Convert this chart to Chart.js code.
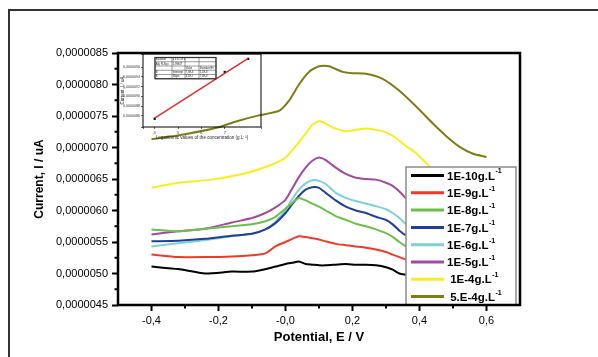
<!DOCTYPE html>
<html lang="en">
<head>
<meta charset="UTF-8">
<title>DPV response vs concentration</title>
<script src="https://cdn.jsdelivr.net/npm/chart.js"></script>
<style>
  html, body { margin: 0; padding: 0; background: #fff; }
  #wrap { position: relative; width: 598px; height: 357px; overflow: hidden; }
  #mainChart { position: absolute; left: 0; top: 0; }
  #insetChart { position: absolute; left: 117px; top: 50px; }
</style>
</head>
<body>
<div id="wrap">
  <canvas id="mainChart" width="598" height="357"></canvas>
  <canvas id="insetChart" width="148" height="92"></canvas>
</div>
<script>
// current values are in units of 1e-6 (axis labels show the real value)
const potentialLow = [-0.40, -0.32, -0.24, -0.16, -0.10, -0.06, -0.03, 0.00, 0.02, 0.04, 0.06, 0.08,
                      0.10, 0.12, 0.15, 0.18, 0.21, 0.24, 0.27, 0.30, 0.32, 0.34, 0.36];
const current1E10 = [5.11, 5.07, 5.00, 5.03, 5.03, 5.07, 5.11, 5.15, 5.17, 5.19, 5.15, 5.14,
                     5.13, 5.13, 5.14, 5.15, 5.14, 5.14, 5.13, 5.10, 5.06, 5.00, 4.98];
const current1E9  = [5.30, 5.26, 5.26, 5.27, 5.29, 5.32, 5.43, 5.50, 5.55, 5.59, 5.58, 5.56,
                     5.54, 5.51, 5.47, 5.45, 5.43, 5.41, 5.38, 5.34, 5.30, 5.26, 5.22];
const current1E8  = [5.70, 5.67, 5.71, 5.75, 5.78, 5.83, 5.90, 6.03, 6.12, 6.20, 6.16, 6.11,
                     6.06, 6.00, 5.91, 5.85, 5.79, 5.75, 5.70, 5.64, 5.58, 5.50, 5.43];
const current1E7  = [5.51, 5.52, 5.55, 5.60, 5.63, 5.70, 5.80, 5.96, 6.10, 6.23, 6.33, 6.37,
                     6.36, 6.28, 6.16, 6.06, 6.00, 5.96, 5.90, 5.85, 5.78, 5.68, 5.60];
const current1E6  = [5.43, 5.48, 5.53, 5.59, 5.63, 5.70, 5.82, 6.01, 6.18, 6.33, 6.43, 6.48,
                     6.47, 6.42, 6.28, 6.20, 6.15, 6.11, 6.07, 6.02, 5.96, 5.88, 5.78];
const current1E5  = [5.62, 5.67, 5.71, 5.81, 5.88, 5.96, 6.05, 6.17, 6.35, 6.53, 6.68, 6.79,
                     6.84, 6.80, 6.68, 6.58, 6.52, 6.50, 6.49, 6.44, 6.39, 6.30, 6.19];

const potential1E4 = [-0.40, -0.32, -0.22, -0.12, -0.04, 0.00, 0.03, 0.06, 0.08, 0.10, 0.12,
                      0.14, 0.18, 0.21, 0.24, 0.27, 0.30, 0.33, 0.36, 0.39, 0.43];
const current1E4   = [6.36, 6.44, 6.49, 6.59, 6.73, 6.84, 7.02, 7.22, 7.36, 7.42, 7.38,
                      7.32, 7.26, 7.28, 7.30, 7.28, 7.24, 7.15, 7.02, 6.91, 6.70];

const potential5E4 = [-0.40, -0.30, -0.20, -0.15, -0.08, -0.02, 0.01, 0.04, 0.07, 0.10, 0.13,
                      0.17, 0.20, 0.24, 0.29, 0.34, 0.39, 0.44, 0.48, 0.52, 0.56, 0.60];
const current5E4   = [7.13, 7.21, 7.32, 7.41, 7.51, 7.58, 7.74, 8.00, 8.20, 8.29, 8.29,
                      8.20, 8.18, 8.17, 8.09, 7.90, 7.65, 7.38, 7.18, 7.01, 6.90, 6.85];

const concLabels = ['1E-10g.L', '1E-9g.L', '1E-8g.L', '1E-7g.L', '1E-6g.L', '1E-5g.L', ' 1E-4g.L', ' 5.E-4g.L'];
const lineColors = ['#000000', '#ef3a2b', '#6cc04a', '#1f3f98', '#7fd1d6', '#a14a9f', '#f8ef1c', '#7d7d16'];

// inset: calibration (log of concentration vs peak current)
const insetLogC    = [4, 7, 8];
const insetCurrent = [8.54, 9.50, 9.77];
const fitLogC      = [4, 8];
const fitCurrent   = [8.55, 9.78];

const seriesX = [potentialLow, potentialLow, potentialLow, potentialLow, potentialLow, potentialLow, potential1E4, potential5E4];
const seriesY = [current1E10, current1E9, current1E8, current1E7, current1E6, current1E5, current1E4, current5E4];

const FONT = '"Liberation Sans", Arial, sans-serif';

function pairs(xs, ys) {
    return xs.map((x, i) => ({ x: x, y: ys[i] }));
}

function isMajorY(v) {
    const k = Math.round(v * 4);
    return Math.abs(v * 4 - k) < 1e-6 && k % 2 === 0;
}
function isMajorX(v) {
    const k = Math.round(v * 10);
    return Math.abs(v * 10 - k) < 1e-6 && k % 2 === 0;
}

const datasets = concLabels.map((label, i) => ({
    label: label,
    data: pairs(seriesX[i], seriesY[i]),
    showLine: true,
    borderColor: lineColors[i],
    borderWidth: 2,
    pointRadius: 0,
    tension: 0.2,
    fill: false
}));

// outer frame of the figure
const framePlugin = {
    id: 'frame',
    beforeDraw(chart) {
        const ctx = chart.ctx;
        ctx.save();
        ctx.fillStyle = '#fff';
        ctx.fillRect(0, 0, chart.width, chart.height);
        ctx.strokeStyle = '#333';
        ctx.lineWidth = 2;
        ctx.strokeRect(9, 10, 700, 500);
        ctx.restore();
    }
};

// legend box inside the plot, lower right
const legendPlugin = {
    id: 'boxLegend',
    afterDatasetsDraw(chart) {
        const ctx = chart.ctx;
        const a = chart.chartArea;
        const bx = a.right - 114, by = 167, bw = 110, bh = a.bottom - by;
        ctx.save();
        ctx.fillStyle = '#fff';
        ctx.fillRect(bx, by, bw, bh);
        ctx.strokeStyle = '#8c8c8c';
        ctx.lineWidth = 1.5;
        ctx.strokeRect(bx, by, bw, bh);
        chart.data.datasets.forEach((ds, i) => {
            const y = by + 8.5 + i * 17.3;
            ctx.strokeStyle = ds.borderColor;
            ctx.lineWidth = 3;
            ctx.beginPath();
            ctx.moveTo(bx + 5, y);
            ctx.lineTo(bx + 38, y);
            ctx.stroke();
            ctx.fillStyle = '#000';
            ctx.textAlign = 'left';
            ctx.textBaseline = 'middle';
            ctx.font = 'bold 11.5px ' + FONT;
            ctx.fillText(ds.label, bx + 41, y + 1);
            const w = ctx.measureText(ds.label).width;
            ctx.font = 'bold 7px ' + FONT;
            ctx.fillText('-1', bx + 41 + w + 0.5, y - 4);
        });
        ctx.restore();
    }
};

// axis box and short minor ticks
const boxPlugin = {
    id: 'axisBox',
    afterDraw(chart) {
        const ctx = chart.ctx;
        const a = chart.chartArea;
        const xs = chart.scales.x, ys = chart.scales.y;
        ctx.save();
        ctx.strokeStyle = '#000';
        ctx.lineWidth = 2;
        xs.ticks.forEach(t => {
            if (isMajorX(t.value) || t.value <= xs.min + 1e-9 || t.value >= xs.max - 1e-9) return;
            const px = xs.getPixelForValue(t.value);
            ctx.beginPath(); ctx.moveTo(px, a.bottom); ctx.lineTo(px, a.bottom + 3.5); ctx.stroke();
        });
        ys.ticks.forEach(t => {
            if (isMajorY(t.value) || t.value <= ys.min + 1e-9 || t.value >= ys.max - 1e-9) return;
            const py = ys.getPixelForValue(t.value);
            ctx.beginPath(); ctx.moveTo(a.left, py); ctx.lineTo(a.left - 3.5, py); ctx.stroke();
        });
        ctx.lineWidth = 2.5;
        ctx.strokeRect(a.left, a.top, a.right - a.left, a.bottom - a.top);
        ctx.restore();
    }
};

new Chart(document.getElementById('mainChart'), {
    type: 'scatter',
    data: { datasets: datasets },
    options: {
        responsive: false,
        animation: false,
        layout: { padding: { left: 27, top: 53, right: 78, bottom: 10 } },
        plugins: { legend: { display: false }, tooltip: { enabled: false } },
        scales: {
            x: {
                type: 'linear', min: -0.5, max: 0.7,
                afterFit: s => { s.height = 42; },
                ticks: {
                    stepSize: 0.1, autoSkip: false, maxRotation: 0, padding: 3,
                    color: '#000', font: { family: FONT, size: 11 },
                    callback: v => isMajorX(v) && v > -0.45 && v < 0.65 ? v.toFixed(1).replace('.', ',') : ''
                },
                grid: {
                    drawOnChartArea: false, tickLength: 6, tickWidth: 2,
                    tickColor: c => (c.tick && isMajorX(c.tick.value)) ? '#000' : 'rgba(0,0,0,0)'
                },
                border: { display: false },
                title: {
                    display: true, text: 'Potential, E / V', color: '#000',
                    font: { family: FONT, size: 13, weight: 'bold' },
                    padding: { top: 2, bottom: 2 }
                }
            },
            y: {
                min: 4.5, max: 8.5,
                afterFit: s => { s.width = 91; },
                ticks: {
                    stepSize: 0.25, autoSkip: false, padding: 4,
                    color: '#000', font: { family: FONT, size: 11 },
                    callback: v => isMajorY(v) ? (v * 1e-6).toFixed(7).replace('.', ',') : ''
                },
                grid: {
                    drawOnChartArea: false, tickLength: 6, tickWidth: 2,
                    tickColor: c => (c.tick && isMajorY(c.tick.value)) ? '#000' : 'rgba(0,0,0,0)'
                },
                border: { display: false },
                title: {
                    display: true, text: 'Current, I / uA', color: '#000',
                    font: { family: FONT, size: 12, weight: 'bold' },
                    padding: { top: 5, bottom: 2 }
                }
            }
        }
    },
    plugins: [framePlugin, legendPlugin, boxPlugin]
});

// ---------- inset ----------
const tableRows = [
    ['Equation', 'y = a + b*x', '', ''],
    ['Adj. R-Squ', '0,99947', '', ''],
    ['', '', 'Value', 'Standard Er'],
    ['B', 'Intercept', '7,3E-6', '5,1E-8'],
    ['B', 'Slope', '3,1E-7', '7,4E-9']
];

const insetPlugin = {
    id: 'insetDecor',
    afterDraw(chart) {
        const ctx = chart.ctx;
        const a = chart.chartArea;
        ctx.save();
        ctx.strokeStyle = '#000';
        ctx.lineWidth = 1;
        ctx.strokeRect(a.left, a.top, a.right - a.left, a.bottom - a.top);
        // fit table
        const cols = [38, 55, 68, 82, 99];
        const top = 7.5, rh = 4.25;
        ctx.fillStyle = '#fff';
        ctx.fillRect(cols[0], top, cols[4] - cols[0], rh * 5);
        ctx.strokeStyle = '#555';
        ctx.lineWidth = 0.6;
        for (let r = 0; r <= 5; r++) {
            ctx.beginPath(); ctx.moveTo(cols[0], top + r * rh); ctx.lineTo(cols[4], top + r * rh); ctx.stroke();
        }
        cols.forEach(cx => {
            ctx.beginPath(); ctx.moveTo(cx, top); ctx.lineTo(cx, top + 5 * rh); ctx.stroke();
        });
        ctx.lineWidth = 1.2;
        ctx.strokeStyle = '#333';
        ctx.strokeRect(cols[0], top, cols[4] - cols[0], rh * 5);
        ctx.fillStyle = '#222';
        ctx.font = '2.6px ' + FONT;
        ctx.textBaseline = 'middle';
        tableRows.forEach((row, r) => {
            row.forEach((txt, c) => {
                if (txt) ctx.fillText(txt, cols[c] + 0.8, top + r * rh + rh / 2);
            });
        });
        ctx.restore();
    }
};

new Chart(document.getElementById('insetChart'), {
    type: 'scatter',
    data: {
        datasets: [
            {
                data: pairs(fitLogC, fitCurrent), showLine: true,
                borderColor: '#d9302a', borderWidth: 1.5, pointRadius: 0
            },
            {
                data: pairs(insetLogC, insetCurrent), showLine: false,
                pointStyle: 'rect', pointRadius: 1.6,
                backgroundColor: '#000', borderColor: '#000', borderWidth: 0
            }
        ]
    },
    options: {
        responsive: false,
        animation: false,
        layout: { padding: { left: 1, top: 4, right: 4, bottom: 0 } },
        plugins: { legend: { display: false }, tooltip: { enabled: false } },
        scales: {
            x: {
                type: 'linear', min: 3.5, max: 8.55,
                afterFit: s => { s.height = 15; },
                ticks: {
                    stepSize: 1, autoSkip: false, maxRotation: 0, padding: 1,
                    color: '#333', font: { family: FONT, size: 4 },
                    callback: v => Math.abs(v - Math.round(v)) < 1e-6 ? String(Math.round(v)) : ''
                },
                grid: { drawOnChartArea: false, tickLength: 2, tickWidth: 0.6, tickColor: '#000' },
                border: { display: false },
                title: {
                    display: true, text: 'Logarithmic values of the concentration (g.L⁻¹)', color: '#222',
                    font: { family: FONT, size: 4.5 }, padding: { top: 1, bottom: 2 }
                }
            },
            y: {
                min: 8.37, max: 9.87,
                afterFit: s => { s.width = 25; },
                ticks: {
                    stepSize: 0.2, autoSkip: false, padding: 1,
                    color: '#333', font: { family: FONT, size: 3.6 },
                    callback: v => Math.abs(v * 5 - Math.round(v * 5)) < 1e-6 ? (v * 1e-6).toFixed(7).replace('.', ',') : ''
                },
                grid: { drawOnChartArea: false, tickLength: 2, tickWidth: 0.6, tickColor: '#000' },
                border: { display: false },
                title: {
                    display: true, text: 'Current, I / uA', color: '#222',
                    font: { family: FONT, size: 4.5 }, padding: { top: 2, bottom: 1 }
                }
            }
        }
    },
    plugins: [insetPlugin]
});
</script>
</body>
</html>
